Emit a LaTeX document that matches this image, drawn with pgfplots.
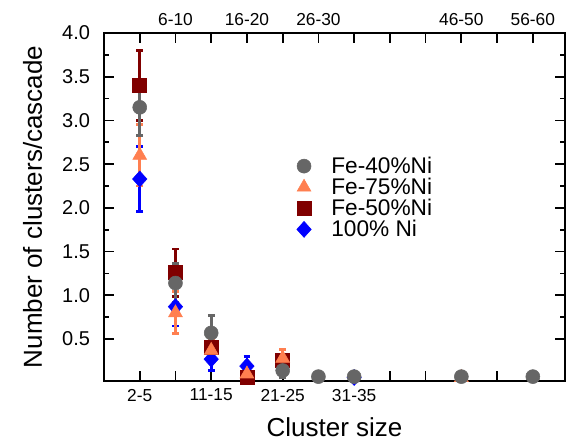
\documentclass[border=0pt]{standalone}
\usepackage{fontspec}
\setmainfont{Liberation Sans}
\usepackage{pgfplots}
\pgfplotsset{compat=1.18}

\definecolor{cgray}{HTML}{666666}
\definecolor{corange}{HTML}{FF7F50}
\definecolor{cred}{HTML}{800000}
\definecolor{cblue}{HTML}{0000FF}

\pgfplotsset{
  boxframe/.style={
    scale only axis, width=345.75pt, height=261pt,
    xmin=-1, xmax=11.9, ymin=0.02, ymax=4.0,
    axis line style={line width=1.6pt},
    every tick/.style={black, line width=1.3pt},
    major tick length=7.5pt, minor tick length=3.75pt,
    tick align=inside,
  },
  err/.style={
    only marks,
    error bars/.cd, y dir=both, y explicit,
    error bar style={line width=2pt},
    error mark options={rotate=90, mark size=2.5pt, line width=2pt},
    /pgfplots/.cd,
  },
}

\begin{document}
\begin{tikzpicture}
\begin{axis}[
  boxframe,
  clip=false,
  xtick={0,...,11},
  xticklabels={2-5,,11-15,,21-25,,31-35,,,,,},
  xticklabel pos=lower,
  xticklabel style={font=\fontsize{13}{15}\selectfont, yshift=-2.4pt},
  ytick={0.5,1.0,1.5,2.0,2.5,3.0,3.5,4.0},
  minor y tick num=1,
  yticklabel pos=left,
  yticklabel style={font=\fontsize{15}{18}\selectfont, xshift=-7pt,
    /pgf/number format/.cd, fixed, fixed zerofill, precision=1, assume math mode=true},
  xlabel={Cluster size},
  ylabel={Number of clusters/cascade},
  every axis x label/.style={at={(axis description cs:0.5,0)}, anchor=base, yshift=-42pt, font=\fontsize{19.5}{23}\selectfont},
  every axis y label/.style={at={(axis description cs:0,0.5)}, rotate=90, anchor=base, yshift=46.5pt, font=\fontsize{19.5}{23}\selectfont},
  legend style={draw=none, fill=none, at={(0.40,0.66)}, anchor=north west,
    font=\fontsize{17}{20}\selectfont, row sep=-2pt},
  legend cell align=left,
  reverse legend,
  legend image code/.code={%
    \draw[#1] plot[only marks] coordinates {(0.3cm,0cm)};
    \path[draw=none] (0cm,0cm) -- (0.95cm,0cm);},
]
% 100% Ni
\addplot+[err, color=cblue, mark=diamond*, mark size=6pt, mark options={solid, draw=cblue, fill=cblue, xscale=1.2}]
  coordinates {
  (0,2.33) +- (0,0.37)
  (1,0.87) +- (0,0.22)
  (2,0.27) +- (0,0.13)
  (3,0.19) +- (0,0.11)
  (6,0.06) +- (0,0)
  };
\addlegendentry{100\% Ni}
% Fe-50%Ni
\addplot+[err, color=cred, mark=square*, mark size=5.25pt, mark options={solid, draw=cred, fill=cred}]
  coordinates {
  (0,3.40) +- (0,0.40)
  (1,1.26) +- (0,0.27)
  (2,0.40) +- (0,0.10)
  (3,0.06) +- (0,0.03)
  (4,0.26) +- (0,0.06)
  };
\addlegendentry{Fe-50\%Ni}
% Fe-75%Ni
\addplot+[err, color=corange, mark=triangle*, mark size=6pt, mark options={solid, draw=corange, fill=corange}]
  coordinates {
  (0,2.60) +- (0,0.35)
  (1,0.80) +- (0,0.24)
  (2,0.37) +- (0,0.12)
  (3,0.10) +- (0,0.05)
  (4,0.28) +- (0,0.10)
  (9,0.06) +- (0,0)
  };
\addlegendentry{Fe-75\%Ni}
% Fe-40%Ni
\addplot+[err, color=cgray, mark=*, mark size=5.25pt, mark options={solid, draw=cgray, fill=cgray}]
  coordinates {
  (0,3.15) +- (0,0.32)
  (1,1.14) +- (0,0.22)
  (2,0.57) +- (0,0.20)
  (4,0.14) +- (0,0.08)
  (5,0.07) +- (0,0)
  (6,0.07) +- (0,0)
  (9,0.07) +- (0,0)
  (11,0.07) +- (0,0)
  };
\addlegendentry{Fe-40\%Ni}
\end{axis}
% top category labels
\begin{axis}[
  boxframe,
  hide y axis,
  axis x line*=top,
  x axis line style={draw=none},
  xtick={1,3,5,9,11},
  xticklabels={6-10,16-20,26-30,46-50,56-60},
  major tick length=0pt,
  xticklabel style={font=\fontsize{13}{15}\selectfont, yshift=1.7pt},
]
\end{axis}
\pgfresetboundingbox
\path[use as bounding box] (-78pt,-45pt) rectangle (354pt,285.75pt);
\end{tikzpicture}
\end{document}
